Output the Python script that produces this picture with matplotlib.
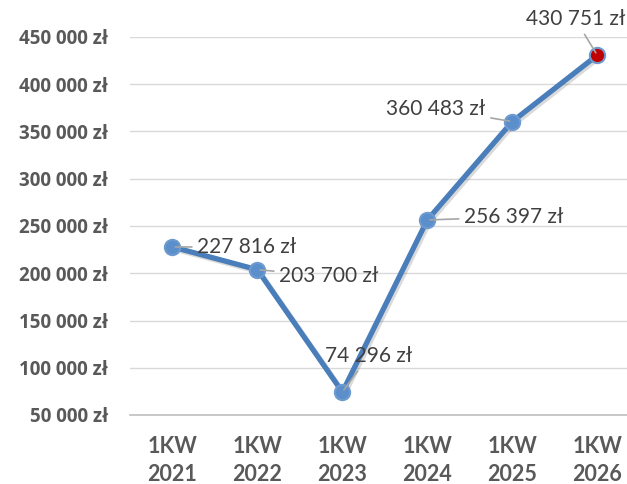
import matplotlib.pyplot as plt
import matplotlib.patheffects as pe
from matplotlib.ticker import FuncFormatter

quarters = ['1KW\n2021', '1KW\n2022', '1KW\n2023', '1KW\n2024', '1KW\n2025', '1KW\n2026']
values = [227816, 203700, 74296, 256397, 360483, 430751]
labels = ['227 816 zł', '203 700 zł', '74 296 zł', '256 397 zł', '360 483 zł', '430 751 zł']

# label offsets in pixels (text anchor relative to point)
offsets = [(25, 0), (22, -6), (26, 36), (37, 3), (-27, 13), (-22, 36)]
aligns = ['left', 'left', 'center', 'left', 'right', 'center']

fig = plt.figure(figsize=(6.27, 4.84), dpi=100)
ax = fig.add_axes([130 / 627, 1 - 415 / 484, 1 - 130 / 627, (415 - 37) / 484])

x = list(range(len(values)))
line_col = '#4A7EBB'
ax.plot(x, values, color=line_col, lw=3.8, solid_capstyle='round', zorder=3,
        path_effects=[pe.SimpleLineShadow(offset=(1.5, -1.5), alpha=0.18, shadow_color='#333333'), pe.Normal()])
for i, v in enumerate(values):
    face = '#C00000' if i == len(values) - 1 else '#5B8FCB'
    ax.plot(i, v, 'o', ms=11, mfc=face, mec='#6E9AD0', mew=1.5, zorder=4)

for i, v in enumerate(values):
    dx, dy = offsets[i]
    ax.annotate(labels[i], (i, v), xytext=(dx, dy), textcoords='offset pixels',
                ha=aligns[i], va='center', fontsize=15, family='Lato', color='#404040',
                arrowprops=dict(arrowstyle='-', color='#A6A6A6', lw=1.2, shrinkA=2, shrinkB=2),
                zorder=5)

ax.set_xlim(-0.5, 5.35)
ax.set_ylim(50000, 450000)
ax.set_yticks(range(50000, 450001, 50000))
ax.yaxis.set_major_formatter(FuncFormatter(lambda v, p: f'{int(v):,} zł'.replace(',', ' ')))
ax.set_xticks(x)
ax.set_xticklabels(quarters)

ax.grid(axis='y', color='#D9D9D9', lw=1)
ax.set_axisbelow(True)
for s in ['top', 'right', 'left']:
    ax.spines[s].set_visible(False)
ax.spines['bottom'].set_color('#BFBFBF')
ax.spines['bottom'].set_linewidth(1.2)
ax.tick_params(length=0)
ax.tick_params(axis='y', pad=16)
ax.tick_params(axis='x', pad=15)
for t in ax.get_yticklabels():
    t.set_fontfamily('Open Sans')
    t.set_fontweight('bold')
    t.set_fontsize(13.5)
    t.set_color('#595959')
for t in ax.get_xticklabels():
    t.set_fontfamily('Lato')
    t.set_fontweight('bold')
    t.set_fontsize(15.5)
    t.set_color('#595959')
    t.set_linespacing(1.45)

fig.savefig('out.png', dpi=100)
